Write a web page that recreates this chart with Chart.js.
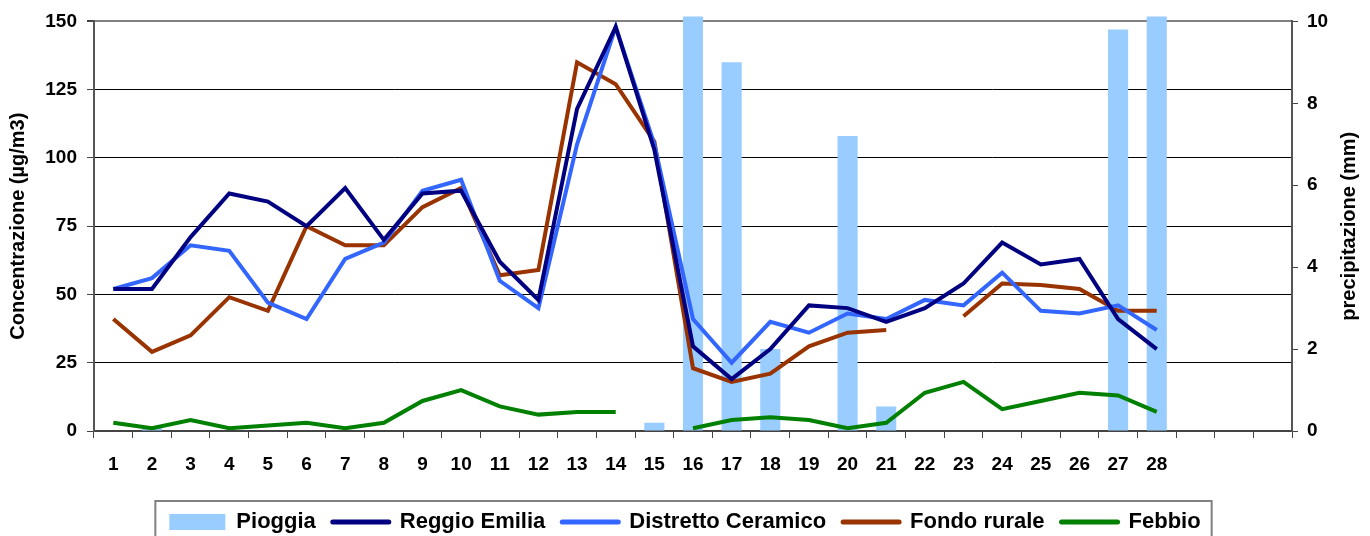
<!DOCTYPE html>
<html>
<head>
<meta charset="utf-8">
<script src="https://cdn.jsdelivr.net/npm/chart.js@4.4.1/dist/chart.umd.min.js"></script>
<style>
    html, body { margin: 0; padding: 0; background: #fff; }
</style>
</head>
<body>
<canvas id="pm10Chart" width="1370" height="536"></canvas>
<script>
// giorni del mese (le ultime tre colonne sono vuote)
var days = ['1', '2', '3', '4', '5', '6', '7', '8', '9', '10', '11', '12', '13', '14',
    '15', '16', '17', '18', '19', '20', '21', '22', '23', '24', '25', '26', '27', '28', '', '', ''];

var pioggia = [0, 0.1, 0, 0, 0, 0, 0, 0, 0, 0, 0, 0, 0, 0, 0.2, 11, 9.0, 2.0, 0, 7.2, 0.6,
    0, 0, 0, 0, 0, 9.8, 11];
var reggioEmilia = [52, 52, 71, 87, 84, 75, 89, 70, 87, 88, 62, 48, 118, 148, 103, 31, 19,
    30, 46, 45, 40, 45, 54, 69, 61, 63, 41, 30];
var distrettoCeramico = [52, 56, 68, 66, 47, 41, 63, 69, 88, 92, 55, 45, 105, 148, 105, 41,
    25, 40, 36, 43, 41, 48, 46, 58, 44, 43, 46, 37];
var fondoRurale = [41, 29, 35, 49, 44, 75, 68, 68, 82, 89, 57, 59, 135, 127, 106, 23, 18,
    21, 31, 36, 37, null, 42, 54, 53.5, 52, 44, 44];
var febbio = [3, 1, 4, 1, 2, 3, 1, 3, 11, 15, 9, 6, 7, 7, null, 1, 4, 5, 4, 1, 3, 14, 18,
    8, 11, 14, 13, 7];

var FONT = '"Liberation Sans", Arial, sans-serif';
Chart.defaults.font.family = FONT;
Chart.defaults.font.weight = 'bold';
Chart.defaults.color = '#000';

var legendBorder = {
    id: 'legendBorder',
    afterDraw: function (chart) {
        var boxes = chart.legend.legendHitBoxes;
        if (!boxes || !boxes.length) return;
        var first = boxes[0], last = boxes[boxes.length - 1];
        var ctx = chart.ctx;
        ctx.save();
        ctx.strokeStyle = '#808080';
        ctx.lineWidth = 2;
        ctx.strokeRect(first.left - 14, first.top - 10, last.left + last.width - first.left + 25, 60);
        ctx.restore();
    }
};

// titolo dell'asse destro letto dal basso verso l'alto
var rightTitle = {
    id: 'rightTitle',
    afterDraw: function (chart) {
        var a = chart.chartArea, ctx = chart.ctx;
        ctx.save();
        ctx.translate(chart.scales.y1.right - 21, (a.top + a.bottom) / 2);
        ctx.rotate(-Math.PI / 2);
        ctx.font = 'bold 20px ' + FONT;
        ctx.textAlign = 'center';
        ctx.textBaseline = 'middle';
        ctx.fillStyle = '#000';
        ctx.fillText('precipitazione (mm)', 0, 0);
        ctx.restore();
    }
};

function lineSet(label, data, color) {
    return {
        type: 'line',
        label: label,
        data: data,
        yAxisID: 'y',
        borderColor: color,
        backgroundColor: color,
        borderWidth: 4,
        pointRadius: 0,
        tension: 0,
        order: 0
    };
}

new Chart(document.getElementById('pm10Chart').getContext('2d'), {
    data: {
        labels: days,
        datasets: [
            {
                type: 'bar',
                label: 'Pioggia',
                data: pioggia,
                yAxisID: 'y1',
                backgroundColor: '#99CCFF',
                barPercentage: 0.52,
                categoryPercentage: 1,
                clip: { left: 0, top: 5, right: 0, bottom: 0 },
                order: 1
            },
            lineSet('Reggio Emilia', reggioEmilia, '#000080'),
            lineSet('Distretto Ceramico', distrettoCeramico, '#3366FF'),
            lineSet('Fondo rurale', fondoRurale, '#993300'),
            lineSet('Febbio', febbio, '#008000')
        ]
    },
    options: {
        responsive: false,
        animation: false,
        layout: { padding: { top: 19, left: 0, right: 0, bottom: -7 } },
        plugins: {
            tooltip: { enabled: false },
            legend: {
                position: 'bottom',
                labels: {
                    font: { size: 22, weight: 'bold' },
                    color: '#000',
                    usePointStyle: true,
                    pointStyleWidth: 56,
                    boxHeight: 16,
                    padding: 17,
                    generateLabels: function (chart) {
                        var items = Chart.defaults.plugins.legend.labels.generateLabels(chart);
                        items.forEach(function (it) {
                            var ds = chart.data.datasets[it.datasetIndex];
                            if (ds.type === 'bar') {
                                it.pointStyle = 'rect';
                                it.lineWidth = 0;
                                it.fillStyle = ds.backgroundColor;
                            } else {
                                it.pointStyle = 'line';
                                it.lineWidth = 5;
                                it.lineCap = 'round';
                                it.strokeStyle = ds.borderColor;
                            }
                        });
                        return items.sort(function (a, b) { return a.datasetIndex - b.datasetIndex; });
                    }
                }
            }
        },
        scales: {
            x: {
                offset: true,
                afterFit: function (scale) { scale.height = 63; },
                grid: { offset: true, drawOnChartArea: false, tickLength: 7, tickColor: '#444' },
                border: { color: '#444', width: 2 },
                ticks: { font: { size: 19 }, padding: 15, maxRotation: 0, autoSkip: false }
            },
            y: {
                position: 'left',
                min: 0,
                max: 150,
                afterFit: function (scale) { scale.width = 94; },
                ticks: { stepSize: 25, font: { size: 19 }, padding: 10 },
                grid: {
                    color: function (c) { return c.tick && c.tick.value === 150 ? '#808080' : '#000'; },
                    lineWidth: function (c) { return c.tick && c.tick.value === 150 ? 2 : 1; },
                    tickLength: 7,
                    tickColor: '#444'
                },
                border: { color: '#555', width: 2 },
                title: {
                    display: true,
                    text: 'Concentrazione (µg/m3)',
                    font: { size: 20, weight: 'bold' },
                    padding: { top: 6, bottom: 0 }
                }
            },
            y1: {
                position: 'right',
                min: 0,
                max: 10,
                afterFit: function (scale) { scale.width = 78; },
                ticks: { stepSize: 2, font: { size: 19 }, padding: 9 },
                grid: { drawOnChartArea: false, tickLength: 6, tickColor: '#444' },
                border: { color: '#555', width: 2 }
            }
        }
    },
    plugins: [legendBorder, rightTitle]
});
</script>
</body>
</html>
